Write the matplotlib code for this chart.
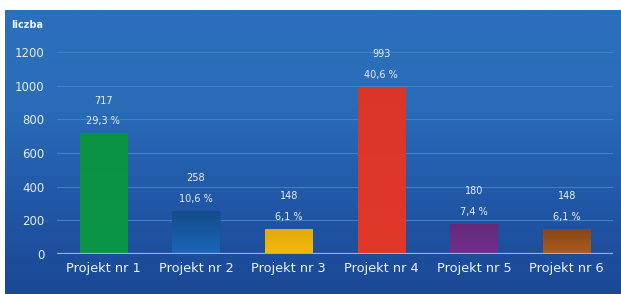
import numpy as np
import matplotlib
matplotlib.use("Agg")
import matplotlib.pyplot as plt
from matplotlib.colors import LinearSegmentedColormap, to_rgb

# data
projects = ["Projekt nr 1", "Projekt nr 2", "Projekt nr 3",
            "Projekt nr 4", "Projekt nr 5", "Projekt nr 6"]
counts = [717, 258, 148, 993, 180, 148]
percents = ["29,3 %", "10,6 %", "6,1 %", "40,6 %", "7,4 %", "6,1 %"]
bar_colors = ["#0b9645", "#1a66b8", "#f7b80c", "#e1382a", "#722f8c", "#ad5b1f"]
y_ticks = [0, 200, 400, 600, 800, 1000, 1200]

W, H = 621, 294
fig = plt.figure(figsize=(W / 100, H / 100), dpi=100)
fig.patch.set_facecolor("white")

# blue gradient panel behind everything
bg = fig.add_axes([5 / W, 0, 616 / W, 284 / H], zorder=0)
grad = LinearSegmentedColormap.from_list("bg", ["#1a4895", "#2158a7", "#2a6cb8", "#2c70bb"])
bg.imshow(np.linspace(0, 1, 256).reshape(-1, 1), aspect="auto", cmap=grad,
          origin="lower", extent=[0, 1, 0, 1])
bg.set_axis_off()

left, right = 57 / W, 613 / W
y0_px, y1200_px = 254, 52
per_px = (y0_px - y1200_px) / 1200
ytop = 1290
top_px = y0_px - ytop * per_px
ax = fig.add_axes([left, (H - y0_px) / H, right - left, (y0_px - top_px) / H], zorder=1)
ax.patch.set_alpha(0)

x = np.arange(len(projects))
bars = ax.bar(x, counts, width=0.51, color=bar_colors, edgecolor="#1d4f93",
              linewidth=0.6, zorder=3)

# slight vertical shading inside each bar (darker towards the top)
shade = [0.97, 0.75, 0.92, 0.97, 0.88, 0.78]
for b, col, f in zip(bars, bar_colors, shade):
    base = np.array(to_rgb(col))
    cm = LinearSegmentedColormap.from_list("b", [base, base * f])
    bx, by = b.get_x(), b.get_y()
    im = ax.imshow(np.linspace(0, 1, 64).reshape(-1, 1), cmap=cm, aspect="auto",
                   origin="lower", extent=[bx, bx + b.get_width(), by, by + b.get_height()],
                   zorder=3.5)
    im.set_clip_path(b)

for xi, c, p in zip(x, counts, percents):
    ax.annotate(p, (xi, c), xytext=(0, 5), textcoords="offset points",
                ha="center", va="bottom", color="#e8eef7", fontsize=7)
    ax.annotate(str(c), (xi, c), xytext=(0, 20), textcoords="offset points",
                ha="center", va="bottom", color="#e8eef7", fontsize=7)

ax.set_xlim(-0.5, len(projects) - 0.5)
ax.set_ylim(0, ytop)
ax.set_yticks(y_ticks)
ax.set_yticklabels([str(t) for t in y_ticks])
ax.set_xticks(x)
ax.set_xticklabels(projects)

for t in y_ticks[1:]:
    ax.axhline(t, color="#4080c4", lw=0.8, zorder=1)
ax.axhline(0, color="#8fb3df", lw=1.6, zorder=4)

for s in ax.spines.values():
    s.set_visible(False)
ax.tick_params(axis="y", length=0, pad=9, labelcolor="#e6edf6", labelsize=8.5)
ax.tick_params(axis="x", length=0, pad=6, labelcolor="#eef3fa", labelsize=9.3)

fig.text(11 / W, 1 - 25 / H, "liczba", color="#f0f4fa", fontsize=7,
         fontweight="bold", va="center", ha="left", zorder=5)

fig.savefig("out.png", dpi=100, facecolor=fig.get_facecolor())
